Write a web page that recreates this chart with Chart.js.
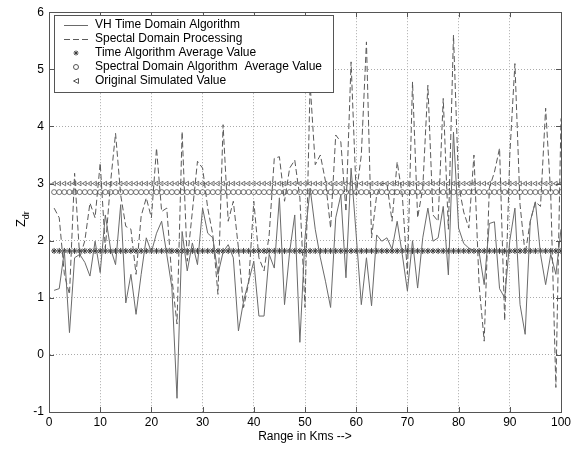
<!DOCTYPE html>
<html>
<head>
<meta charset="utf-8">
<script src="https://cdn.jsdelivr.net/npm/chart.js@4"></script>
<style>
  html, body { margin: 0; padding: 0; background: #fff; }
  #wrap { width: 576px; height: 450px; }
</style>
</head>
<body>
<div id="wrap"><canvas id="zdr" width="576" height="450"></canvas></div>
<script>
// range bins, 1..100 km
const ranges = Array.from({ length: 100 }, (_, i) => i + 1);

const timeDomain = [
  1.13, 1.16, 1.82, 0.39, 1.70, 1.76, 1.62, 1.38, 1.99, 1.44,
  2.45, 1.87, 1.58, 2.63, 0.91, 1.41, 0.71, 1.41, 2.05, 1.80,
  2.13, 2.34, 1.76, 1.18, -0.76, 2.16, 1.47, 1.96, 1.58, 2.57,
  2.13, 2.05, 1.41, 1.80, 1.93, 1.70, 0.42, 0.94, 1.29, 1.64,
  0.68, 0.68, 1.76, 1.52, 2.75, 0.88, 1.80, 2.45, 0.22, 2.05,
  2.92, 2.20, 1.70, 1.29, 0.83, 2.40, 2.80, 1.35, 3.27, 2.10,
  0.88, 1.70, 0.86, 2.10, 1.99, 2.05, 1.85, 2.34, 1.76, 1.12,
  2.00, 1.17, 2.05, 2.57, 1.99, 2.05, 2.60, 1.40, 3.90, 2.22,
  1.95, 1.87, 1.82, 1.80, 1.23, 2.30, 2.33, 1.16, 1.00, 2.00,
  2.57, 0.88, 0.36, 2.34, 2.68, 1.76, 1.23, 1.76, 1.41, 2.20
];

const spectral = [
  2.57, 2.40, 1.41, 1.06, 3.18, 1.70, 2.00, 2.66, 2.40, 3.36,
  1.87, 3.00, 3.88, 2.80, 2.25, 2.20, 1.41, 2.43, 2.75, 2.40,
  3.62, 2.51, 2.57, 1.35, 0.54, 3.91, 1.64, 2.51, 3.39, 3.27,
  2.57, 2.10, 1.06, 4.03, 2.34, 2.69, 1.87, 0.83, 1.26, 2.69,
  1.70, 1.47, 2.10, 3.44, 3.47, 2.69, 3.27, 3.41, 2.75, 0.83,
  4.75, 3.33, 3.50, 3.04, 2.22, 3.85, 3.73, 2.51, 5.13, 2.80,
  3.50, 5.48, 2.05, 2.80, 3.00, 3.00, 2.34, 3.38, 2.80, 1.41,
  4.78, 2.40, 2.92, 4.72, 2.45, 2.34, 4.49, 2.20, 5.60, 2.98,
  2.50, 2.22, 3.50, 1.23, 0.24, 2.92, 3.20, 3.62, 0.60, 3.50,
  5.10, 2.63, 1.76, 2.34, 2.68, 2.60, 4.32, 2.80, -0.57, 4.14
];

const timeAvg = 1.82;
const spectralAvg = 2.85;
const originalValue = 3.0;

const xTicks = [0, 10, 20, 30, 40, 50, 60, 70, 80, 90, 100];
const yTicks = [-1, 0, 1, 2, 3, 4, 5, 6];

const FONT = "'Liberation Sans', Arial, sans-serif";
const INK = '#3a3a3a';

const pts = vals => ranges.map((x, i) => ({ x, y: vals[i] }));
const flat = v => ranges.map(x => ({ x, y: v }));

// box, inward ticks, axis titles and the legend (MATLAB look)
const framePlugin = {
  id: 'frame',
  afterDraw(chart) {
    const { ctx, chartArea: a, scales } = chart;
    ctx.save();
    ctx.strokeStyle = '#555';
    ctx.lineWidth = 1;
    ctx.strokeRect(Math.round(a.left) + 0.5, Math.round(a.top) + 0.5,
      Math.round(a.right - a.left), Math.round(a.bottom - a.top));

    // inward ticks on all four sides
    ctx.beginPath();
    xTicks.forEach(t => {
      const px = Math.round(scales.x.getPixelForValue(t)) + 0.5;
      ctx.moveTo(px, a.bottom); ctx.lineTo(px, a.bottom - 5);
      ctx.moveTo(px, a.top); ctx.lineTo(px, a.top + 5);
    });
    yTicks.forEach(t => {
      const py = Math.round(scales.y.getPixelForValue(t)) + 0.5;
      ctx.moveTo(a.left, py); ctx.lineTo(a.left + 5, py);
      ctx.moveTo(a.right, py); ctx.lineTo(a.right - 5, py);
    });
    ctx.stroke();

    // x title
    ctx.fillStyle = '#000';
    ctx.font = `12px ${FONT}`;
    ctx.textAlign = 'center';
    ctx.textBaseline = 'middle';
    ctx.fillText('Range in Kms -->', (a.left + a.right) / 2, 437);

    // y title Z_dr
    ctx.save();
    ctx.translate(21, (a.top + a.bottom) / 2 + 6);
    ctx.rotate(-Math.PI / 2);
    ctx.textAlign = 'left';
    ctx.textBaseline = 'alphabetic';
    ctx.font = `13px ${FONT}`;
    ctx.fillText('Z', -9, 4);
    const zw = ctx.measureText('Z').width;
    ctx.font = `9px ${FONT}`;
    ctx.fillText('dr', -9 + zw, 8);
    ctx.restore();

    // legend
    const lx = 54, ly = 15, lw = 279, lh = 77;
    ctx.fillStyle = '#fff';
    ctx.fillRect(lx, ly, lw, lh);
    ctx.strokeStyle = '#555';
    ctx.strokeRect(lx + 0.5, ly + 0.5, lw, lh);

    ctx.font = `12px ${FONT}`;
    ctx.textAlign = 'left';
    ctx.textBaseline = 'middle';
    chart.data.datasets.forEach((ds, i) => {
      const cy = 25 + i * 14;
      ctx.strokeStyle = ds.borderColor;
      ctx.lineWidth = 1;
      if (ds.showLine !== false) {
        ctx.setLineDash(ds.borderDash || []);
        ctx.beginPath();
        ctx.moveTo(64, cy + 0.5); ctx.lineTo(88, cy + 0.5);
        ctx.stroke();
        ctx.setLineDash([]);
      } else {
        drawMarker(ctx, ds.pointStyle, 76, cy, 2.5);
      }
      ctx.fillStyle = '#000';
      ctx.fillText(ds.label, 95, cy);
    });
    ctx.restore();
  }
};

function drawMarker(ctx, style, x, y, r) {
  ctx.beginPath();
  if (style === 'star') {
    ctx.moveTo(x - r, y); ctx.lineTo(x + r, y);
    ctx.moveTo(x, y - r); ctx.lineTo(x, y + r);
    const d = r * 0.7;
    ctx.moveTo(x - d, y - d); ctx.lineTo(x + d, y + d);
    ctx.moveTo(x - d, y + d); ctx.lineTo(x + d, y - d);
  } else if (style === 'circle') {
    ctx.arc(x, y, r, 0, Math.PI * 2);
  } else {
    ctx.moveTo(x - r, y); ctx.lineTo(x + r, y - r); ctx.lineTo(x + r, y + r); ctx.closePath();
  }
  ctx.stroke();
}

new Chart(document.getElementById('zdr'), {
  type: 'line',
  data: {
    datasets: [
      {
        label: 'VH Time Domain Algorithm',
        data: pts(timeDomain),
        borderColor: '#6a6a6a',
        borderWidth: 1,
        pointRadius: 0,
        tension: 0,
      },
      {
        label: 'Spectal Domain Processing',
        data: pts(spectral),
        borderColor: '#5a5a5a',
        borderWidth: 1,
        borderDash: [6, 3],
        pointRadius: 0,
        tension: 0,
      },
      {
        label: 'Time Algorithm Average Value',
        data: flat(timeAvg),
        showLine: false,
        pointStyle: 'star',
        pointRadius: 3,
        borderColor: INK,
        borderWidth: 1,
      },
      {
        label: 'Spectral Domain Algorithm  Average Value',
        data: flat(spectralAvg),
        showLine: false,
        pointStyle: 'circle',
        pointRadius: 2.5,
        backgroundColor: 'rgba(0,0,0,0)',
        borderColor: '#555',
        borderWidth: 0.8,
      },
      {
        label: 'Original Simulated Value',
        data: flat(originalValue),
        showLine: false,
        pointStyle: 'triangle',
        pointRotation: -90,
        pointRadius: 2.6,
        backgroundColor: 'rgba(0,0,0,0)',
        borderColor: '#555',
        borderWidth: 0.8,
      }
    ]
  },
  options: {
    responsive: false,
    animation: false,
    layout: { padding: { top: 9, right: 15, left: 0, bottom: 0 } },
    plugins: { legend: { display: false }, tooltip: { enabled: false } },
    scales: {
      x: {
        type: 'linear',
        min: 0, max: 100,
        afterBuildTicks: s => { s.ticks = xTicks.map(v => ({ value: v })); },
        afterFit: s => { s.height = 38; },
        ticks: { color: '#000', font: { family: FONT, size: 12 }, padding: 3, maxRotation: 0 },
        grid: { color: '#aaa', lineWidth: 1, drawTicks: false },
        border: { color: '#555', dash: [1, 2] },
      },
      y: {
        min: -1, max: 6,
        afterBuildTicks: s => { s.ticks = yTicks.map(v => ({ value: v })); },
        afterFit: s => { s.width = 49; },
        ticks: { color: '#000', font: { family: FONT, size: 12 }, padding: 5 },
        grid: { color: '#aaa', lineWidth: 1, drawTicks: false },
        border: { color: '#555', dash: [1, 2] },
      }
    }
  },
  plugins: [framePlugin]
});
</script>
</body>
</html>
